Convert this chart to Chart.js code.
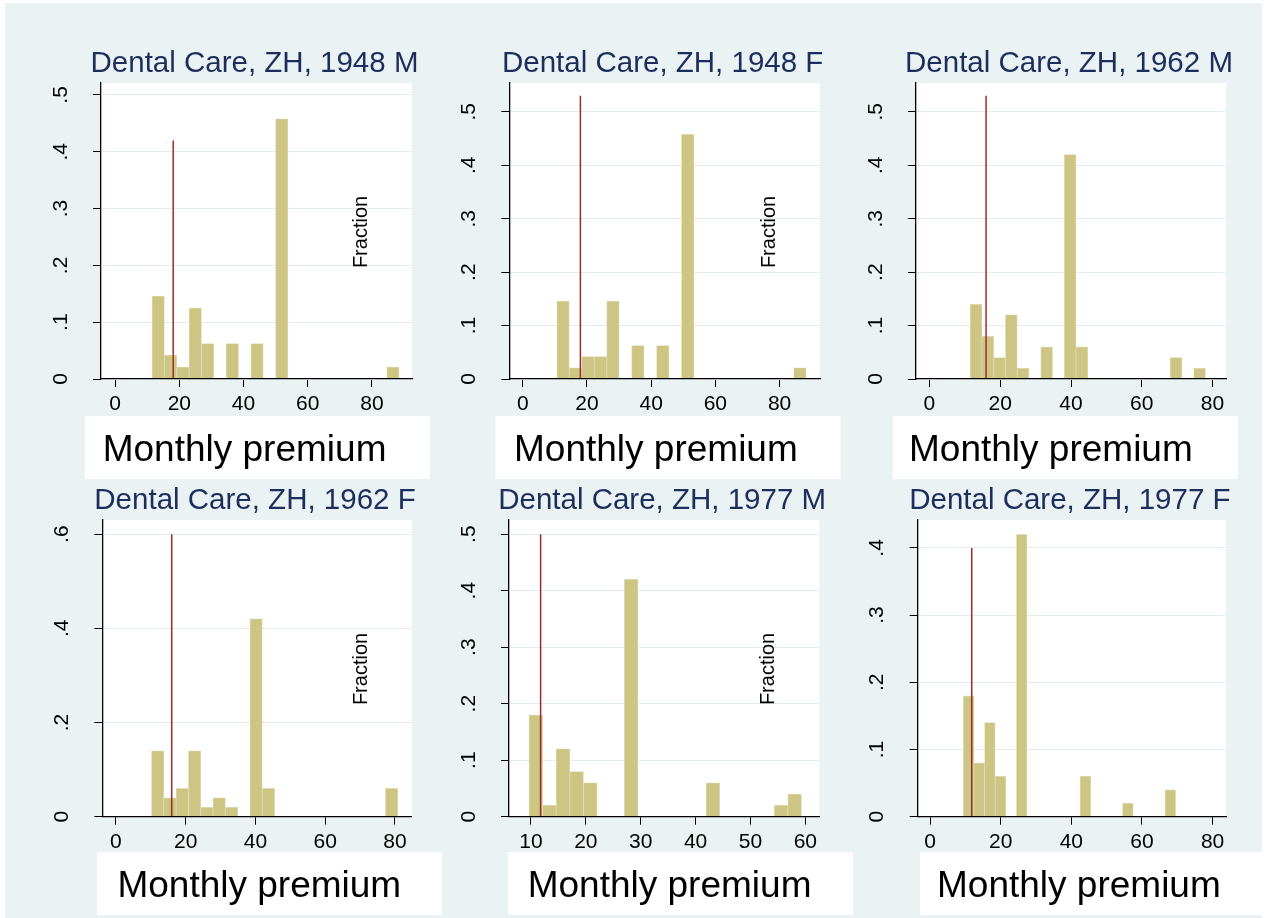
<!DOCTYPE html>
<html>
<head>
<meta charset="utf-8">
<script src="https://cdn.jsdelivr.net/npm/chart.js@4.4.1/dist/chart.umd.min.js"></script>
<style>
  html, body { margin: 0; padding: 0; background: #fff; }
  #page { position: relative; width: 1269px; height: 918px; overflow: hidden; }
  #bg { position: absolute; left: 5px; top: 3px; width: 1257px; height: 915px; background: #eaf2f3; }
  canvas { position: absolute; left: 0; top: 0; }
</style>
</head>
<body>
<div id="page"><div id="bg"></div></div>
<script>
// panel titles
const titles = ["Dental Care, ZH, 1948 M", "Dental Care, ZH, 1948 F", "Dental Care, ZH, 1962 M",
                "Dental Care, ZH, 1962 F", "Dental Care, ZH, 1977 M", "Dental Care, ZH, 1977 F"];

// histogram bins: left edge of first bin, and bin width (20 bins each)
const binStart = [11.5, 10.6, 11.5, 10.2, 9.64, 9.43];
const binWidth = [3.85, 3.885, 3.325, 3.53, 2.483, 3.005];

// fraction in each bin
const fr1948M = [.146, .042, .021, .125, .0625, 0, .0625, 0, .0625, 0, .458, 0, 0, 0, 0, 0, 0, 0, 0, .021];
const fr1948F = [.146, .021, .042, .042, .146, 0, .0625, 0, .0625, 0, .458, 0, 0, 0, 0, 0, 0, 0, 0, .021];
const fr1962M = [.14, .08, .04, .12, .02, 0, .06, 0, .42, .06, 0, 0, 0, 0, 0, 0, 0, .04, 0, .02];
const fr1962F = [.14, .04, .06, .14, .02, .04, .02, 0, .42, .06, 0, 0, 0, 0, 0, 0, 0, 0, 0, .06];
const fr1977M = [.18, .02, .12, .08, .06, 0, 0, .42, 0, 0, 0, 0, 0, .06, 0, 0, 0, 0, .02, .04];
const fr1977F = [.18, .08, .14, .06, 0, .42, 0, 0, 0, 0, 0, .06, 0, 0, 0, .02, 0, 0, 0, .04];
const fractions = [fr1948M, fr1948F, fr1962M, fr1962F, fr1977M, fr1977F];

// red reference line (premium value) and its height
const refPremium = [18.1, 17.95, 16.0, 16.0, 11.76, 11.8];
const refTop = [.42, .53, .53, .6, .5, .4];

// axis ticks and ranges
const xTicks = [[0, 20, 40, 60, 80], [0, 20, 40, 60, 80], [0, 20, 40, 60, 80],
                [0, 20, 40, 60, 80], [10, 20, 30, 40, 50, 60], [0, 20, 40, 60, 80]];
const yTicks = [[0, .1, .2, .3, .4, .5], [0, .1, .2, .3, .4, .5], [0, .1, .2, .3, .4, .5],
                [0, .2, .4, .6], [0, .1, .2, .3, .4, .5], [0, .1, .2, .3, .4]];
const xMin = [-4.4, -4.2, -3.8, -3.9, 6.0, -3.5];
const xMax = [92.5, 92.6, 83.8, 84.8, 62.55, 83.8];
const yMax = [.521, .554, .554, .63, .525, .4415];
const showFraction = [true, true, false, true, true, false];

// page layout (pixels)
const plots = [
  {l: 101, r: 412, t: 83, b: 379}, {l: 509.3, r: 820, t: 83, b: 379}, {l: 916, r: 1226, t: 83, b: 379},
  {l: 102.3, r: 411.7, t: 520, b: 816.7}, {l: 509, r: 819.3, t: 520, b: 816.7}, {l: 917.7, r: 1226, t: 520, b: 816.7}
];
const boxes = [
  {x: 85, y: 416, tx: 102.7}, {x: 495.5, y: 416, tx: 514}, {x: 893, y: 416, tx: 909},
  {x: 97, y: 852, tx: 117.4}, {x: 508, y: 852, tx: 527.7}, {x: 920, y: 852, tx: 937}
];

const W = 1269, H = 918;
const FONT = "'Liberation Sans', Arial, Helvetica, sans-serif";

function fmtY(v) {
  return v === 0 ? '0' : String(+v.toFixed(1)).replace(/^0/, '');
}

function stataPlugin(i) {
  return {
    id: 'stata' + i,
    beforeDraw(chart) {
      const ctx = chart.ctx, a = chart.chartArea, bx = boxes[i];
      ctx.save();
      ctx.fillStyle = '#fff';
      ctx.fillRect(a.left, a.top, a.right - a.left, a.bottom - a.top);
      ctx.fillRect(bx.x, bx.y, 345, 63);
      ctx.restore();
    },
    afterDraw(chart) {
      const ctx = chart.ctx, a = chart.chartArea, bx = boxes[i];
      const ys = chart.scales.y;
      ctx.save();
      // title
      ctx.fillStyle = '#1d2d5c';
      ctx.font = '29.5px ' + FONT;
      ctx.textAlign = 'center';
      ctx.textBaseline = 'alphabetic';
      ctx.fillText(titles[i], (a.left + a.right) / 2 - 2, a.top - 11);
      // y tick labels, rotated
      ctx.fillStyle = '#000';
      ctx.font = '21px ' + FONT;
      ctx.textBaseline = 'middle';
      ys.ticks.forEach(t => {
        const py = ys.getPixelForValue(t.value);
        ctx.save();
        ctx.translate(a.left - 40, py);
        ctx.rotate(-Math.PI / 2);
        ctx.fillText(fmtY(t.value), 0, 0);
        ctx.restore();
      });
      // misplaced y title
      if (showFraction[i]) {
        ctx.font = '20px ' + FONT;
        ctx.save();
        ctx.translate(a.right - 50.5, a.top + 149);
        ctx.rotate(-Math.PI / 2);
        ctx.fillText('Fraction', 0, 0);
        ctx.restore();
      }
      // x title in white box
      ctx.font = '37px ' + FONT;
      ctx.textAlign = 'left';
      ctx.textBaseline = 'alphabetic';
      ctx.fillText('Monthly premium', bx.tx, bx.y + 45);
      ctx.restore();
    }
  };
}

const page = document.getElementById('page');
plots.forEach((p, i) => {
  const c = document.createElement('canvas');
  c.width = W; c.height = H;
  page.appendChild(c);
  const bars = fractions[i].map((v, k) => ({x: binStart[i] + binWidth[i] * (k + 0.5), y: v}));
  new Chart(c, {
    type: 'bar',
    data: {
      datasets: [
        {
          type: 'line',
          data: [{x: refPremium[i], y: 0}, {x: refPremium[i], y: refTop[i]}],
          borderColor: '#9e2b2b', borderWidth: 1.5, pointRadius: 0, order: 0
        },
        {
          type: 'bar',
          data: bars,
          backgroundColor: '#ccc583', borderColor: '#e0dcb3', borderWidth: 0.8,
          categoryPercentage: 1, barPercentage: 1, order: 1
        }
      ]
    },
    options: {
      responsive: false,
      animation: false,
      events: [],
      layout: { padding: { left: p.l - 10, right: W - p.r, top: p.t, bottom: H - p.b - 40 } },
      plugins: { legend: { display: false }, tooltip: { enabled: false }, title: { display: false } },
      scales: {
        x: {
          type: 'linear', min: xMin[i], max: xMax[i], bounds: 'data', offset: false,
          afterBuildTicks: s => { s.ticks = xTicks[i].map(v => ({value: v})); },
          afterFit: s => { s.height = 40; },
          grid: { offset: false, drawOnChartArea: false, drawTicks: true, tickLength: 8, tickColor: '#000', lineWidth: 1 },
          border: { display: true, color: '#000', width: 1.3, z: 1 },
          ticks: { autoSkip: false, maxRotation: 0, minRotation: 0, padding: 5, color: '#000',
                   font: { family: FONT, size: 21 } }
        },
        y: {
          type: 'linear', min: 0, max: yMax[i], bounds: 'data',
          afterBuildTicks: s => { s.ticks = yTicks[i].map(v => ({value: v})); },
          afterFit: s => { s.width = 10; },
          grid: { color: '#e3ecee', lineWidth: 1, drawTicks: true, tickLength: 8, tickColor: '#000' },
          border: { display: true, color: '#000', width: 1.3, z: 1 },
          ticks: { display: false }
        }
      }
    },
    plugins: [stataPlugin(i)]
  });
});
</script>
</body>
</html>
